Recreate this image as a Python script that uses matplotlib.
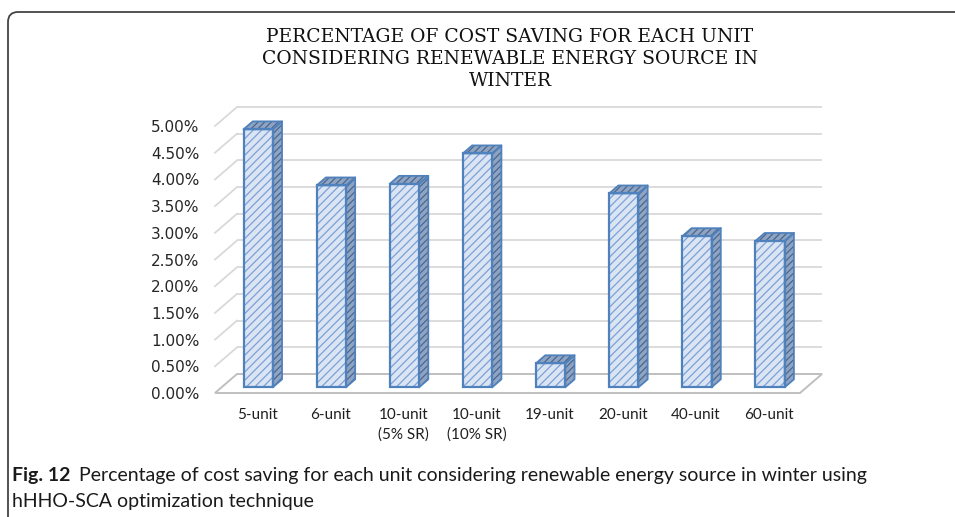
import matplotlib
matplotlib.use("Agg")
import matplotlib.pyplot as plt
from matplotlib.patches import Polygon, FancyBboxPatch
from matplotlib.transforms import IdentityTransform
import numpy as np

# ---------------- data ----------------
categories = ["5-unit", "6-unit", "10-unit\n(5% SR)", "10-unit\n(10% SR)",
              "19-unit", "20-unit", "40-unit", "60-unit"]
savings = [4.83, 3.78, 3.81, 4.38, 0.45, 3.63, 2.83, 2.74]   # percent
yticks = [0.0, 0.5, 1.0, 1.5, 2.0, 2.5, 3.0, 3.5, 4.0, 4.5, 5.0]
title_lines = ["PERCENTAGE OF COST SAVING FOR EACH UNIT",
               "CONSIDERING RENEWABLE ENERGY SOURCE IN",
               "WINTER"]
caption_label = "Fig. 12"
caption_line1 = "Percentage of cost saving for each unit considering renewable energy source in winter using"
caption_line2 = "hHHO-SCA optimization technique"

# ---------------- layout ----------------
W, H = 955, 517
plt.rcParams["hatch.linewidth"] = 0.9
fig = plt.figure(figsize=(W / 100, H / 100), dpi=100)
fig.patch.set_facecolor("white")

n = len(categories)
ax = fig.add_axes([215 / W, (H - 393) / H, 585 / W, 267 / H])
ax.set_xlim(0, n)
ax.set_ylim(0, 5)
for s in ax.spines.values():
    s.set_visible(False)
ax.patch.set_alpha(0)

# depth vector (data units) for the pseudo-3D look
px_x = n / 585.0
px_y = 5 / 267.0
DX, DY = 22 * px_x, 19 * px_y


def sh(x, y, d):
    return (x + d * DX, y + d * DY)


grid_c = "#d9d9d9"
floor_c = "#bfbfbf"

# back wall gridlines + left wall diagonals
for v in yticks[1:]:
    p0 = sh(0, v, 1); p1 = sh(n, v, 1)
    ax.plot([p0[0], p1[0]], [p0[1], p1[1]], color=grid_c, lw=1.3,
            clip_on=False, zorder=1, solid_capstyle="butt")
    q0 = sh(0, v, 0)
    ax.plot([q0[0], p0[0]], [q0[1], p0[1]], color=grid_c, lw=1.3,
            clip_on=False, zorder=1)

# floor
floor = Polygon([sh(0, 0, 0), sh(n, 0, 0), sh(n, 0, 1), sh(0, 0, 1)],
                closed=True, facecolor="white", edgecolor=floor_c, lw=1.4,
                clip_on=False, zorder=1.5)
ax.add_patch(floor)

# bars
centers = np.arange(n) + 0.5
bw = 0.4
d1, d2 = 0.3, 0.72
front_fill = "#dae4f3"
front_hatch = "#7ba1d8"
edge_c = "#4f81bd"
side_fill = "#8ea4c2"
side_hatch = "#4a6790"

fx = centers + d1 * DX
fy = d1 * DY
ax.bar(fx, savings, width=bw, bottom=fy, color=front_fill, hatch="////",
       edgecolor=front_hatch, linewidth=0, zorder=3, clip_on=False)
ax.bar(fx, savings, width=bw, bottom=fy, fill=False, edgecolor=edge_c,
       linewidth=1.6, zorder=4, clip_on=False)

for c, v in zip(centers, savings):
    xl, xr = c - bw / 2, c + bw / 2
    side = [sh(xr, 0, d1), sh(xr, 0, d2), sh(xr, v, d2), sh(xr, v, d1)]
    top = [sh(xl, v, d1), sh(xr, v, d1), sh(xr, v, d2), sh(xl, v, d2)]
    for pts in (side, top):
        ax.add_patch(Polygon(pts, closed=True, facecolor=side_fill,
                             edgecolor=side_hatch, hatch="/////", lw=0,
                             clip_on=False, zorder=3))
        ax.add_patch(Polygon(pts, closed=True, fill=False, edgecolor=edge_c,
                             lw=1.3, clip_on=False, zorder=4,
                             joinstyle="round"))

# axis labels
ax.set_yticks(yticks)
ax.set_yticklabels([f"{v:.2f}%" for v in yticks], fontsize=11,
                   family="DejaVu Sans", color="#262626")
ax.set_xticks(centers + 0.25 * DX)
ax.set_xticklabels(categories, fontsize=11, family="Lato",
                   color="#1f1f1f", linespacing=1.45, va="top")
ax.tick_params(axis="y", length=0, pad=11)
ax.tick_params(axis="x", length=0, pad=11)

# title
title_y = [37, 59, 81]
for line, y in zip(title_lines, title_y):
    fig.text(510 / W, 1 - y / H, line, ha="center", va="center",
             family="DejaVu Serif", fontsize=13.5, color="#111111")

# frame
frame = FancyBboxPatch((8, -30), 1000, (H - 12) + 30,
                       boxstyle="round,pad=0,rounding_size=10",
                       transform=IdentityTransform(), fill=False,
                       edgecolor="#444444", lw=1.3)
fig.patches.append(frame)

# caption
cap_font = "Lato"
cap_size = 14
t1 = fig.text(12 / W, 1 - 476 / H, caption_label, ha="left", va="center",
              family=cap_font, fontsize=cap_size, fontweight="bold",
              color="#1a1a1a")
ax.annotate(caption_line1, xy=(1, 0.5), xycoords=t1, xytext=(6, 0),
            textcoords="offset points", ha="left", va="center",
            family=cap_font, fontsize=cap_size, color="#1a1a1a",
            annotation_clip=False)
fig.text(12 / W, 1 - 501 / H, caption_line2, ha="left", va="center",
         family=cap_font, fontsize=cap_size, color="#1a1a1a")

fig.savefig("out.png", dpi=100)
